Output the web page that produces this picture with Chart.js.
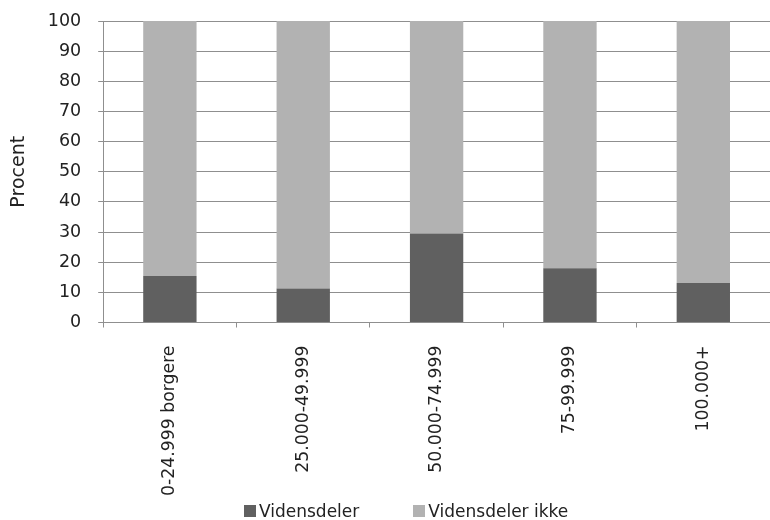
<!DOCTYPE html>
<html>
<head>
<meta charset="utf-8">
<script src="https://cdn.jsdelivr.net/npm/chart.js@4"></script>
<style>
  body { margin: 0; background: #fff; }
  #wrap { position: relative; width: 770px; height: 520px; }
  #legend {
    position: absolute; left: 244px; top: 501px;
    font: 17px 'DejaVu Sans', sans-serif; color: #222;
    display: flex; align-items: center; white-space: nowrap;
  }
  #legend .item { display: flex; align-items: center; margin-right: 54px; }
  #legend .box { width: 12px; height: 12px; margin-right: 3px; }
</style>
</head>
<body>
<div id="wrap">
  <canvas id="chart" width="770" height="520"></canvas>
  <div id="legend"></div>
</div>
<script>
// categories and values (percent)
const categories = ["0-24.999 borgere", "25.000-49.999", "50.000-74.999", "75-99.999", "100.000+"];
const videnDeler = [15.4, 11.3, 29.5, 18.0, 13.1];
const videnDelerIkke = [84.6, 88.7, 70.5, 82.0, 86.9];
const yTicks = [0, 10, 20, 30, 40, 50, 60, 70, 80, 90, 100];

const gridColor = "#8f8f8f";
const textColor = "#222";
const fontFamily = "'DejaVu Sans', sans-serif";

Chart.defaults.font.family = fontFamily;
Chart.defaults.color = textColor;

const ctx = document.getElementById("chart").getContext("2d");
const chart = new Chart(ctx, {
    type: "bar",
    data: {
        labels: categories,
        datasets: [
            {
                label: "Vidensdeler",
                data: videnDeler,
                backgroundColor: "#606060",
                barPercentage: 0.4,
                categoryPercentage: 1
            },
            {
                label: "Vidensdeler ikke",
                data: videnDelerIkke,
                backgroundColor: "#b2b2b2",
                barPercentage: 0.4,
                categoryPercentage: 1
            }
        ]
    },
    options: {
        responsive: false,
        animation: false,
        layout: { padding: { top: 21, right: 0, left: 4, bottom: 6 } },
        plugins: {
            tooltip: { enabled: false },
            legend: { display: false }
        },
        scales: {
            x: {
                stacked: true,
                offset: true,
                grid: {
                    offset: true,
                    drawOnChartArea: false,
                    tickLength: 5,
                    color: gridColor
                },
                border: { color: gridColor },
                ticks: {
                    minRotation: 90,
                    maxRotation: 90,
                    padding: 18,
                    font: { size: 17.3 },
                    color: textColor
                }
            },
            y: {
                stacked: true,
                min: 0,
                max: 100,
                afterBuildTicks: axis => {
                    axis.ticks = yTicks.map(v => ({ value: v }));
                },
                grid: {
                    color: gridColor,
                    // long tick slot, only the 5px next to the axis is drawn
                    tickLength: 19,
                    tickBorderDash: [5, 14],
                    tickBorderDashOffset: 5
                },
                border: { color: gridColor },
                ticks: {
                    padding: 3,
                    font: { size: 17.5 },
                    color: textColor
                },
                title: {
                    display: true,
                    text: "Procent",
                    font: { size: 19 },
                    color: textColor,
                    padding: { top: 4, bottom: 14 }
                }
            }
        }
    }
});

// legend built from the datasets
const legendEl = document.getElementById("legend");
chart.data.datasets.forEach(ds => {
    const item = document.createElement("span");
    item.className = "item";
    const box = document.createElement("span");
    box.className = "box";
    box.style.background = ds.backgroundColor;
    item.appendChild(box);
    item.appendChild(document.createTextNode(ds.label));
    legendEl.appendChild(item);
});
</script>
</body>
</html>
